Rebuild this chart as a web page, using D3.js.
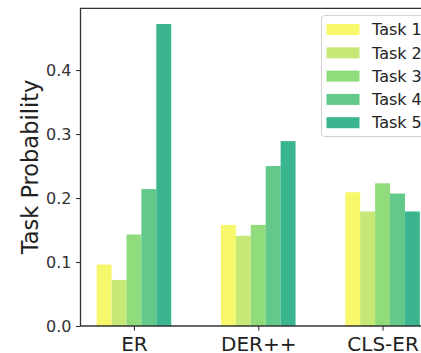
<!DOCTYPE html>
<html>
<head>
<meta charset="utf-8">
<script src="https://cdn.jsdelivr.net/npm/d3@7"></script>
<style>
  body { margin: 0; background: #fff; }
  svg { display: block; font-family: "DejaVu Sans", sans-serif; }
</style>
</head>
<body>
<svg id="chart"></svg>
<script>
// chart data
const methods = ['ER', 'DER++', 'CLS-ER'];
const tasks = ['Task 1', 'Task 2', 'Task 3', 'Task 4', 'Task 5'];
const taskColors = ['#f7f76b', '#c6e876', '#90db7c', '#62c98a', '#3bb58f'];
const erValues = [0.096, 0.072, 0.143, 0.214, 0.472];
const derValues = [0.158, 0.141, 0.158, 0.250, 0.289];
const clsValues = [0.209, 0.179, 0.223, 0.207, 0.179];
const yTicks = [0.0, 0.1, 0.2, 0.3, 0.4];

const width = 421, height = 353;
const barW = 0.12;

let rows = [erValues, derValues, clsValues];

let svg = d3.select('#chart')
    .attr('width', width)
    .attr('height', height);

let x = d3.scaleLinear()
    .domain([-0.43, 2.43])
    .range([80.5, 436]);

let y = d3.scaleLinear()
    .domain([0, 0.497])
    .range([326, 8]);

// bars
rows.forEach((vals, gi) => {
    svg.append('g')
        .selectAll('rect')
        .data(vals)
        .enter()
        .append('rect')
        .attr('x', (d, i) => x(gi + (i - 2) * barW - barW / 2))
        .attr('width', x(barW) - x(0))
        .attr('y', d => y(d))
        .attr('height', d => y(0) - y(d))
        .attr('fill', (d, i) => taskColors[i]);
});

// y axis
let yAxis = svg.append('g')
    .attr('transform', 'translate(80.5,0)')
    .call(d3.axisLeft(y).tickValues(yTicks).tickFormat(d3.format('.1f')).tickSize(4.5).tickPadding(4.5));
yAxis.select('.domain').remove();
yAxis.selectAll('line').attr('stroke', '#333').attr('stroke-width', 1.1);
yAxis.selectAll('text').attr('font-size', 16).attr('fill', '#333')
    .attr('font-family', '"DejaVu Sans", sans-serif');

// x axis
let xAxis = svg.append('g')
    .attr('transform', 'translate(0,326)')
    .call(d3.axisBottom(x).tickValues([0, 1, 2]).tickFormat(i => methods[i]).tickSize(4.5).tickPadding(0));
xAxis.select('.domain').remove();
xAxis.selectAll('line').attr('stroke', '#333').attr('stroke-width', 1.1);
xAxis.selectAll('text').attr('font-size', 20).attr('fill', '#222')
    .attr('font-family', '"DejaVu Sans", sans-serif')
    .attr('y', 24.5).attr('dy', null);

// spines
svg.append('path')
    .attr('d', `M80.5,326V8.3H436`)
    .attr('fill', 'none')
    .attr('stroke', '#333')
    .attr('stroke-width', 1.3);
svg.append('line')
    .attr('x1', 80.5).attr('x2', 436)
    .attr('y1', 326).attr('y2', 326)
    .attr('stroke', '#333')
    .attr('stroke-width', 1.3);

// y label
svg.append('text')
    .attr('transform', 'translate(38,167) rotate(-90)')
    .attr('text-anchor', 'middle')
    .attr('font-size', 22.5)
    .attr('fill', '#222')
    .text('Task Probability');

// legend
let legend = svg.append('g').attr('transform', 'translate(321.5,15.5)');
legend.append('rect')
    .attr('width', 120).attr('height', 121)
    .attr('rx', 3)
    .attr('fill', 'rgba(255,255,255,0.85)')
    .attr('stroke', '#d0d0d0')
    .attr('stroke-width', 1);
tasks.forEach((t, i) => {
    let g = legend.append('g').attr('transform', `translate(0,${14 + i * 23.3})`);
    g.append('rect')
        .attr('x', 5).attr('y', -5.5)
        .attr('width', 33).attr('height', 11)
        .attr('fill', taskColors[i]);
    g.append('text')
        .attr('x', 50.5).attr('y', 0)
        .attr('dy', '0.36em')
        .attr('font-size', 16)
        .attr('fill', '#222')
        .text(t);
});
</script>
</body>
</html>
